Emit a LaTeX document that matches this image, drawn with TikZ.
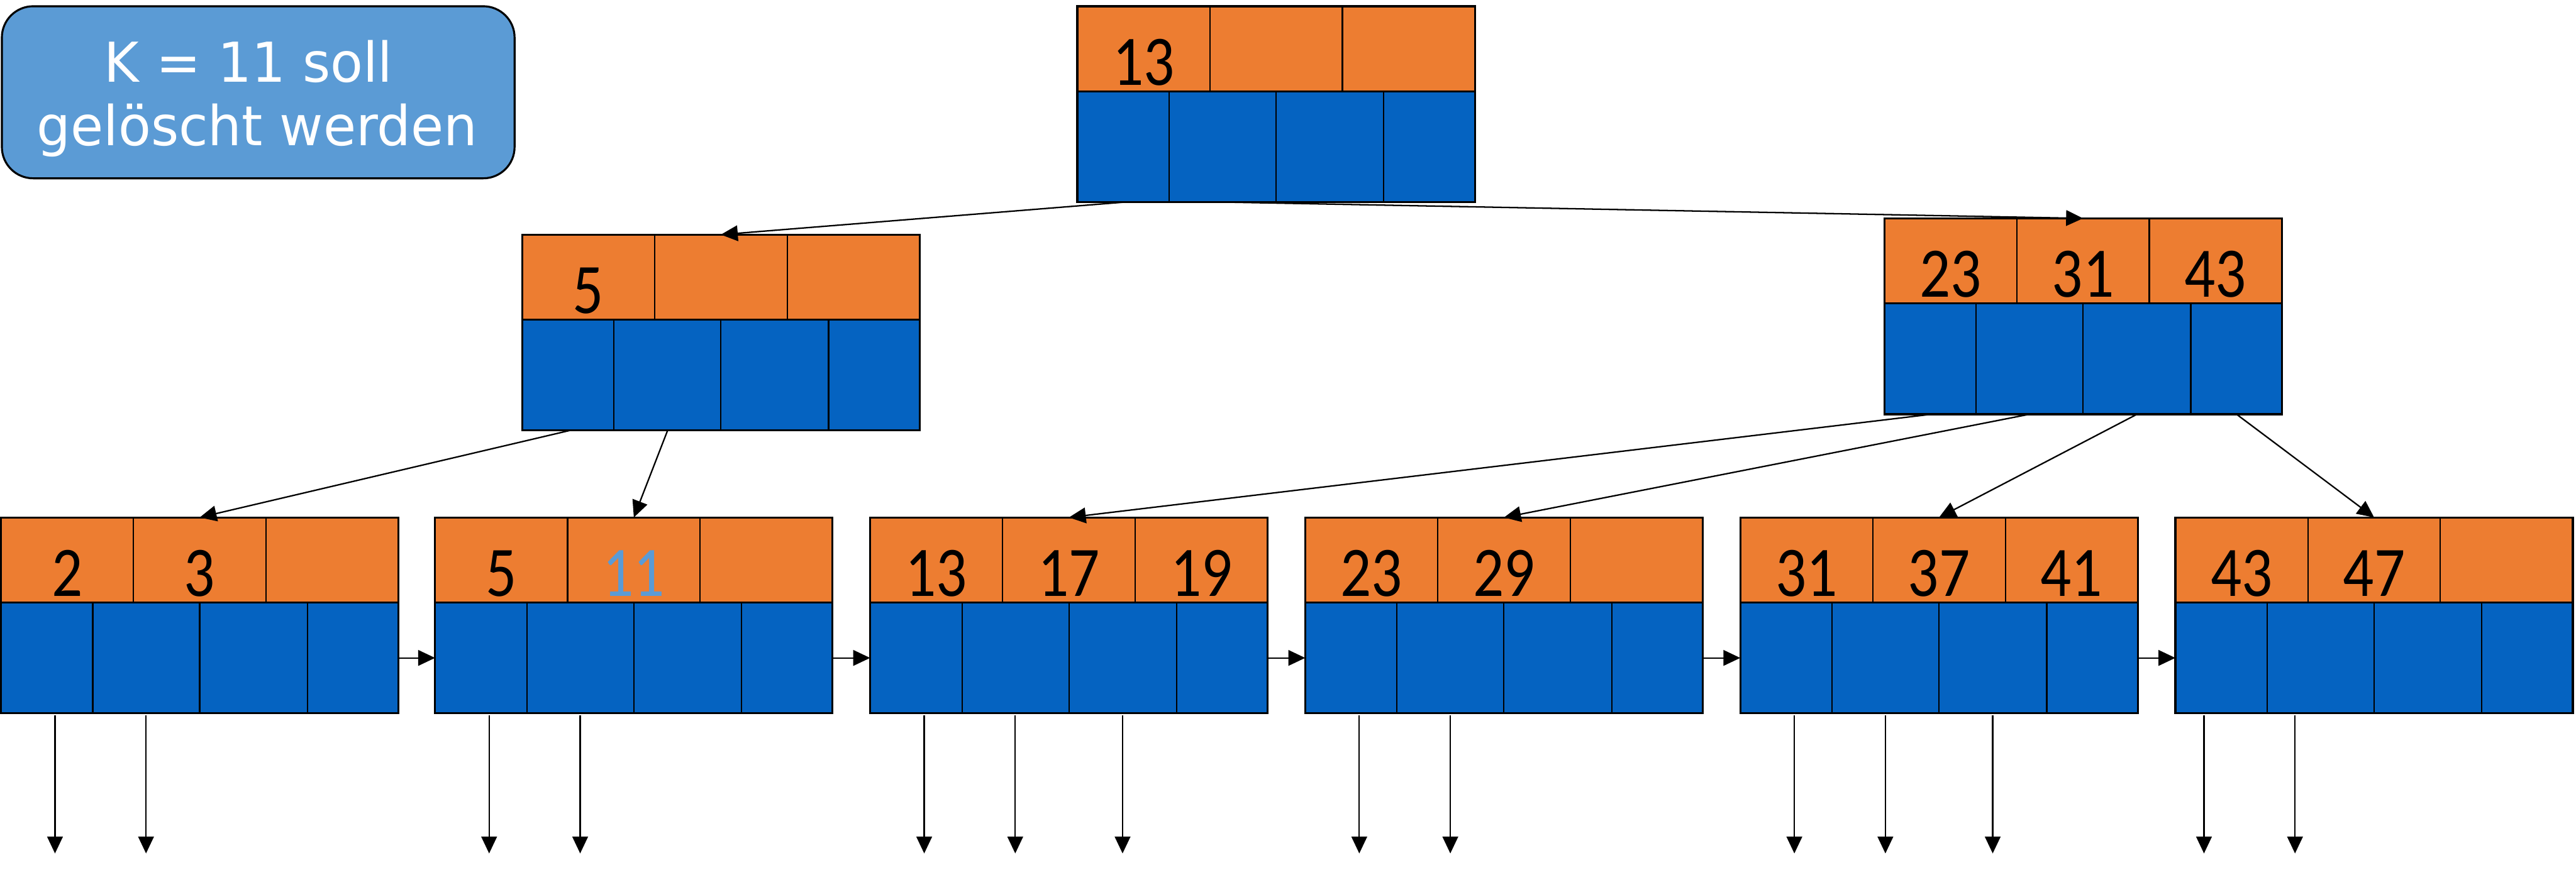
\documentclass[tikz,border=0pt]{standalone}
\usepackage{fontspec}
\usetikzlibrary{calc,arrows.meta}
\newfontfamily\numfont[FakeStretch=0.86]{Carlito}
\newfontfamily\legfont[FakeStretch=0.97]{DejaVu Sans}
\definecolor{korange}{HTML}{ED7D31}
\definecolor{kblue}{HTML}{0563C1}
\definecolor{lblue}{HTML}{5B9BD5}
\tikzset{
  keyrow/.style={rectangle,draw,line width=0.9pt,fill=korange,minimum width=6.35cm,minimum height=1.36cm,inner sep=0pt,outer sep=0pt,anchor=north west},
  ptrrow/.style={rectangle,draw,line width=0.9pt,fill=kblue,minimum width=6.35cm,minimum height=1.77cm,inner sep=0pt,outer sep=0pt,anchor=north west},
  divider/.style={line width=0.6pt},
  keytext/.style={anchor=base,inner sep=0pt,font=\numfont\fontsize{32.3pt}{36pt}\selectfont,text=black},
  arr/.style={line width=0.65pt,-{Triangle[length=0.27cm,width=0.25cm]}},
  legendbox/.style={rectangle,draw,line width=0.9pt,fill=lblue,rounded corners=0.5cm,minimum width=8.19cm,minimum height=2.75cm,inner sep=0pt},
  legendtext/.style={anchor=base,inner sep=0pt,text=white,font=\legfont\fontsize{25pt}{29pt}\selectfont}
}
\newcommand\btnode[6]{%
  \node[keyrow] (#1k) at (#2,#3) {};
  \node[ptrrow] (#1p) at (#1k.south west) {};
  \foreach \f in {0.3333,0.6667}
    \draw[divider] ($(#1k.north west)!\f!(#1k.north east)$) -- ($(#1k.south west)!\f!(#1k.south east)$);
  \foreach \f in {0.231,0.5,0.771}
    \draw[divider] ($(#1p.north west)!\f!(#1p.north east)$) -- ($(#1p.south west)!\f!(#1p.south east)$);
  \node[keytext] (#1t1) at ($(#1k.south west)!0.1667!(#1k.south east)+(0,0.1)$) {#4};
  \node[keytext] (#1t2) at ($(#1k.south west)!0.5!(#1k.south east)+(0,0.1)$) {#5};
  \node[keytext] (#1t3) at ($(#1k.south west)!0.8333!(#1k.south east)+(0,0.1)$) {#6};
}
\begin{document}
\begin{tikzpicture}
\useasboundingbox (0,0) rectangle (41.15,-13.98);
% legend
\node[legendbox] (leg) at (4.125,-1.475) {};
\node[legendtext] (leg1) at (3.97,-1.31) {K = 11 soll};
\node[legendtext] (leg2) at (4.11,-2.33) {gelöscht werden};
% nodes
\btnode{rt}{17.21}{-0.10}{13}{}{}
\btnode{ml}{8.34}{-3.75}{5}{}{}
\btnode{mr}{30.10}{-3.49}{23}{31}{43}
\btnode{la}{0.015}{-8.27}{2}{3}{}
\btnode{lb}{6.95}{-8.27}{5}{\color{lblue}11}{}
\btnode{lc}{13.90}{-8.27}{13}{17}{19}
\btnode{ld}{20.85}{-8.27}{23}{29}{}
\btnode{le}{27.80}{-8.27}{31}{37}{41}
\btnode{lf}{34.75}{-8.27}{43}{47}{}
% tree connectors
\draw[arr] ($(rtp.south west)!0.12!(rtp.south east)$) -- (mlk.north);
\draw[arr] ($(rtp.south west)!0.366!(rtp.south east)$) -- (mrk.north);
\draw[arr] ($(mlp.south west)!0.12!(mlp.south east)$) -- (lak.north);
\draw[arr] ($(mlp.south west)!0.366!(mlp.south east)$) -- (lbk.north);
\draw[arr] ($(mrp.south west)!0.12!(mrp.south east)$) -- (lck.north);
\draw[arr] ($(mrp.south west)!0.366!(mrp.south east)$) -- (ldk.north);
\draw[arr] ($(mrp.south west)!0.636!(mrp.south east)$) -- (lek.north);
\draw[arr] ($(mrp.south west)!0.886!(mrp.south east)$) -- (lfk.north);
% leaf chain
\draw[arr] (lap.east) -- (lbp.west);
\draw[arr] (lbp.east) -- (lcp.west);
\draw[arr] (lcp.east) -- (ldp.west);
\draw[arr] (ldp.east) -- (lep.west);
\draw[arr] (lep.east) -- (lfp.west);
% leaf down pointers
\foreach \n/\fl in {la/{0.136,0.365},lb/{0.136,0.365},lc/{0.136,0.365,0.635},ld/{0.136,0.365},le/{0.136,0.365,0.635},lf/{0.072,0.301}}{
  \foreach \f [count=\i] in \fl {
    \coordinate (\n d\i) at ($(\n p.south west)!\f!(\n p.south east)+(0,-0.03)$);
    \coordinate (\n e\i) at ($(\n d\i)+(0,-2.21)$);
    \draw[arr] (\n d\i) -- (\n e\i);
  }
}
\end{tikzpicture}
\end{document}
